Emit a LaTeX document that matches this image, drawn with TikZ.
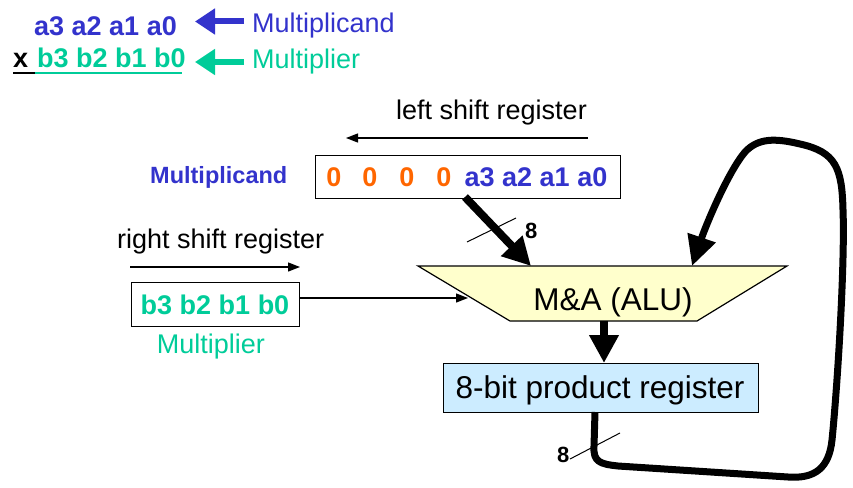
\documentclass[tikz,border=0pt]{standalone}
\usepackage{fontspec}
\setmainfont{Liberation Sans}
\usetikzlibrary{arrows.meta,calc}
\definecolor{myblue}{HTML}{3333CC}
\definecolor{mygreen}{HTML}{00CC99}
\definecolor{myorange}{HTML}{FF6600}
\definecolor{aluyellow}{HTML}{FFFFCC}
\definecolor{regblue}{HTML}{CCECFF}
\begin{document}
\begin{tikzpicture}[x=1pt,y=-1pt,
  lbl/.style={inner sep=0pt, font=\fontsize{27}{32}\selectfont},
  blbl/.style={inner sep=0pt, font=\fontsize{27}{32}\selectfont\bfseries},
  big/.style={inner sep=0pt, font=\fontsize{31.5}{37}\selectfont},
  eight/.style={inner sep=0pt, font=\fontsize{22}{26}\selectfont\bfseries},
  thinarrow/.style={line width=1.3pt, -{Triangle[length=12pt,width=9pt]}},
  toparrow/.style={line width=6pt, -{Triangle[length=20pt,width=25pt]}},
  fatarrow/.style={line width=8pt, -{Triangle[length=28pt,width=28pt]}},
  tick/.style={line width=1pt},
  regbox/.style={draw, line width=1.2pt}]
\useasboundingbox (0,0) rectangle (853,487);

% ---- top equation
\node[blbl, text=myblue, anchor=base west] (ta) at (34,36) {a3 a2 a1 a0};
\node[lbl, text=myblue, anchor=base west] (tmc) at (252,33) {Multiplicand};
\node[blbl, anchor=base west] (tx) at (13,67) {x};
\node[blbl, text=mygreen, anchor=base west] (tb) at (37,67) {b3 b2 b1 b0};
\node[lbl, text=mygreen, anchor=base west] (tmp) at (252,68) {Multiplier};
\draw[line width=1.5pt] (13,73) -- (35,73);
\draw[line width=1.5pt, mygreen] (35,73) -- (182,73);
\coordinate (ba1) at (244,21.5); \coordinate (ba2) at (195,21.5);
\coordinate (ga1) at (244,62); \coordinate (ga2) at (195,62);
\draw[toparrow, myblue] (ba1) -- (ba2);
\draw[toparrow, mygreen] (ga1) -- (ga2);

% ---- multiplicand register
\node[lbl, anchor=base west] (lsr) at (396,119) {left shift register};
\coordinate (ls1) at (588,138); \coordinate (ls2) at (346,138);
\draw[thinarrow] (ls1) -- (ls2);
\node[regbox, minimum width=305pt, minimum height=43pt, anchor=north west] (mreg) at (315,155) {};
\foreach \i/\x in {1/334,2/370,3/407,4/444}
  \node[blbl, text=myorange, anchor=base] (z\i) at (\x,186) {0};
\node[blbl, text=myblue, anchor=base] (ma) at (536,186) {a3 a2 a1 a0};
\node[inner sep=0pt, font=\fontsize{23.5}{28}\selectfont\bfseries, text=myblue, anchor=base west] (mclbl) at (150,183) {Multiplicand};

% ---- multiplier register
\node[lbl, anchor=base west] (rsr) at (117,248) {right shift register};
\coordinate (rs1) at (130,267); \coordinate (rs2) at (300,267);
\draw[thinarrow] (rs1) -- (rs2);
\node[regbox, minimum width=168pt, minimum height=44pt, anchor=north west] (breg) at (131,282) {};
\node[blbl, text=mygreen, anchor=base] (bb) at (215,314) {b3 b2 b1 b0};
\node[lbl, text=mygreen, anchor=base] (mplr) at (211,353) {Multiplier};

% ---- ALU
\coordinate (tl) at (418,266); \coordinate (tr) at (787,266);
\coordinate (br) at (697,321); \coordinate (bl) at (510,321);
\draw[fill=aluyellow, line width=1.2pt] (tl) -- (tr) -- (br) -- (bl) -- cycle;
\node[big, anchor=base] (alu) at (613,310) {M\&A (ALU)};
\coordinate (aluleft) at (468,298);
\draw[thinarrow] (breg.east |- aluleft) -- (aluleft);

% multiplicand -> ALU
\coordinate (min) at (465,197); \coordinate (aluin1) at (531,266);
\draw[fatarrow] (min) -- (aluin1);
\coordinate (t1a) at (467,242); \coordinate (t1b) at (516,218);
\draw[tick] (t1a) -- (t1b);
\node[eight, anchor=base west] (e1) at (525,238) {8};

% ---- product register
\node[draw, fill=regblue, line width=1.2pt, minimum width=315pt, minimum height=49pt, anchor=north west] (prod) at (443,363) {};
\node[big, anchor=base] (prodlbl) at (600,398) {8-bit product register};
\coordinate (aluout) at (604,321);
\draw[fatarrow] (aluout) -- (aluout |- prod.north);

% ---- feedback loop
\coordinate (fbstart) at (595,412);
\coordinate (fbin) at (692,266);
\draw[line width=7pt, line join=round, -{Triangle[length=30pt,width=28pt]}]
  (fbstart) -- (594,446)
  .. controls (593,462) and (600,464) .. (618,466)
  -- (788,477)
  .. controls (815,479) and (829,468) .. (832,440)
  .. controls (838,380) and (845,260) .. (843,210)
  .. controls (842,168) and (836,152) .. (800,144)
  .. controls (775,138) and (758,138) .. (745,152)
  .. controls (728,172) and (706,225) .. (fbin);
\coordinate (t2a) at (570,459); \coordinate (t2b) at (620,433);
\draw[tick] (t2a) -- (t2b);
\node[eight, anchor=base west] (e2) at (557,462) {8};
\end{tikzpicture}
\end{document}
